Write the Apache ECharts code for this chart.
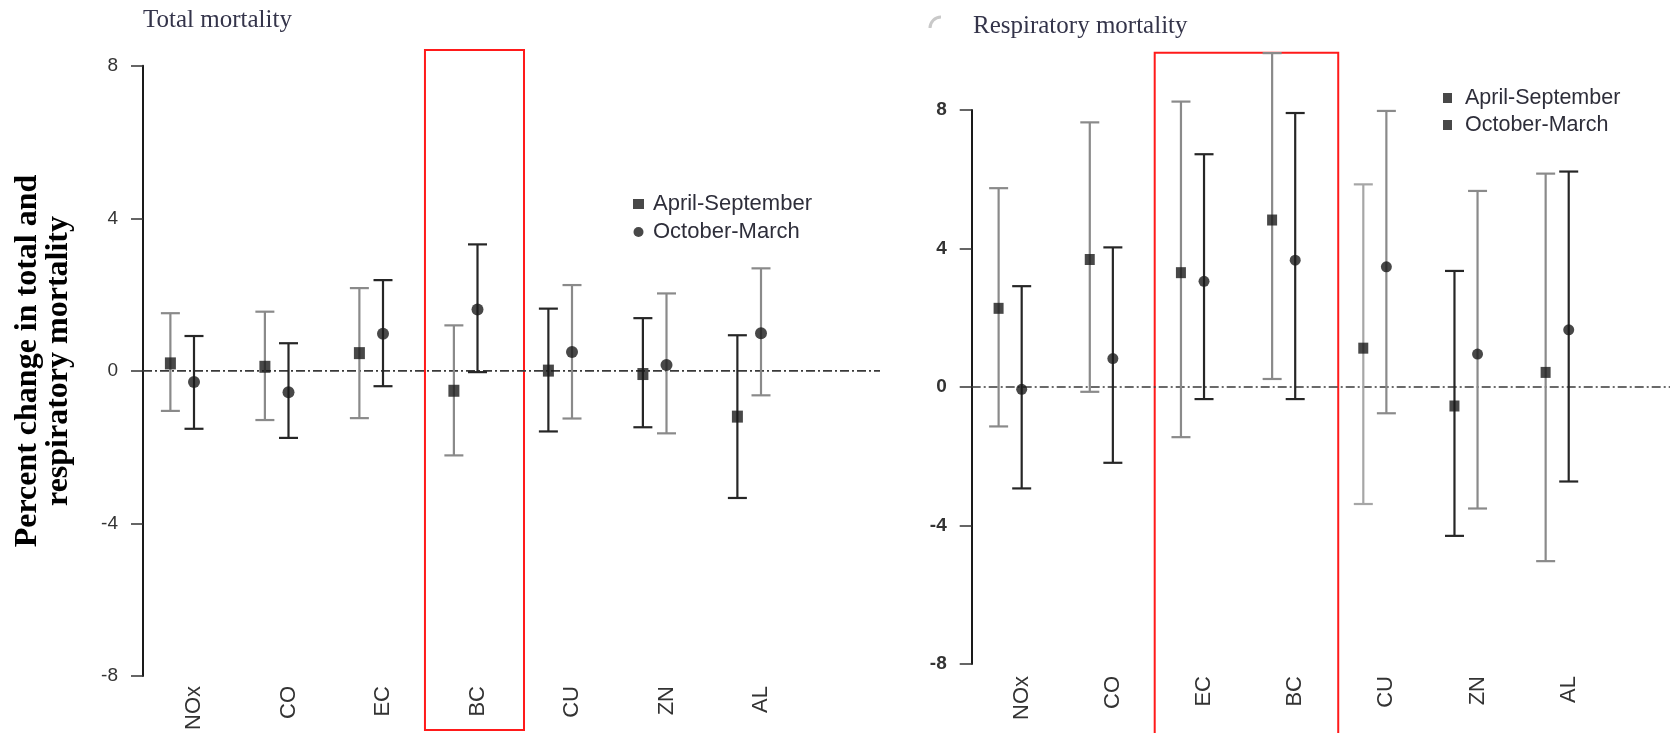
<!DOCTYPE html>
<html><head><meta charset="utf-8">
<script src="https://cdn.jsdelivr.net/npm/echarts@6/dist/echarts.min.js"></script>
<style>html,body{margin:0;padding:0;background:#fff}#c{width:1670px;height:733px}</style>
</head><body><div id="c"></div>
<script>
// ---- data ----
const pollutants = ['NOx', 'CO', 'EC', 'BC', 'CU', 'ZN', 'AL'];
const yTicks = [-8, -4, 0, 4, 8];
const seriesNames = ['April-September', 'October-March'];

// Total mortality
const totalAprSepEst  = [0.17, 0.08, 0.44, -0.55, -0.02, -0.11, -1.23];
const totalAprSepLow  = [-1.08, -1.32, -1.27, -2.25, -1.62, -1.51, -3.37];
const totalAprSepHigh = [1.49, 1.53, 2.15, 1.17, 1.61, 1.36, 0.91];
const totalOctMarEst  = [-0.32, -0.59, 0.95, 1.59, 0.47, 0.13, 0.96];
const totalOctMarLow  = [-1.55, -1.79, -0.43, -0.06, -1.28, -1.67, -0.67];
const totalOctMarHigh = [0.89, 0.70, 2.36, 3.30, 2.23, 2.01, 2.67];

// Respiratory mortality
const respAprSepEst  = [2.27, 3.68, 3.30, 4.82, 1.12, -0.55, 0.42];
const respAprSepLow  = [-1.14, -0.14, -1.45, 0.23, -3.38, -4.30, -5.03];
const respAprSepHigh = [5.74, 7.64, 8.24, 9.64, 5.85, 3.35, 6.16];
const respOctMarEst  = [-0.07, 0.82, 3.05, 3.66, 3.47, 0.95, 1.65];
const respOctMarLow  = [-2.93, -2.19, -0.35, -0.35, -0.76, -3.51, -2.73];
const respOctMarHigh = [2.91, 4.03, 6.72, 7.91, 7.97, 5.66, 6.22];

// highlighted pollutants (red boxes)
const totalHighlight = ['BC', 'BC'];
const respHighlight  = ['EC', 'BC'];

// ---- styles (error bar shade per item) ----
const shadeColors = { d: '#262626', g: '#8a8a8a', l: '#a6a6a6' };
const totalAprSepShade = ['g', 'g', 'g', 'g', 'd', 'd', 'd'];
const totalOctMarShade = ['d', 'd', 'd', 'd', 'g', 'g', 'g'];
const respAprSepShade  = ['g', 'g', 'g', 'g', 'l', 'd', 'g'];
const respOctMarShade  = ['d', 'd', 'd', 'd', 'g', 'g', 'd'];

const FONT_SANS = 'Liberation Sans, Arial, sans-serif';
const FONT_SERIF = 'Liberation Serif, Times New Roman, serif';

function errData(low, high, shade) {
  return pollutants.map((p, i) => [i, low[i], high[i], shade[i]]);
}
function estData(est) {
  return pollutants.map((p, i) => [i, est[i]]);
}
function errRender(dodgeRatio) {
  return function (params, api) {
    const i = api.value(0);
    const band = api.size([1, 0])[0];
    const lo = api.coord([i, api.value(1)]);
    const hi = api.coord([i, api.value(2)]);
    const x = lo[0] - band * dodgeRatio;
    const cap = 9.5;
    const style = { stroke: shadeColors[api.value(3)], lineWidth: 2.2 };
    return {
      type: 'group',
      children: [
        { type: 'line', shape: { x1: x, y1: hi[1], x2: x, y2: lo[1] }, style },
        { type: 'line', shape: { x1: x - cap, y1: hi[1], x2: x + cap, y2: hi[1] }, style },
        { type: 'line', shape: { x1: x - cap, y1: lo[1], x2: x + cap, y2: lo[1] }, style }
      ]
    };
  };
}
// box spanning categories value(0)..value(1), y from value(2) to value(3),
// padded by a fraction of a band on the left (padL) and right (padR)
function boxRender(padL, padR) {
  return function (params, api) {
    const band = api.size([1, 0])[0];
    const p1 = api.coord([api.value(0), api.value(2)]);
    const p2 = api.coord([api.value(1), api.value(3)]);
    const x1 = p1[0] - band * padL, x2 = p2[0] + band * padR;
    return {
      type: 'rect',
      shape: { x: x1, y: p1[1], width: x2 - x1, height: p2[1] - p1[1] },
      style: { fill: 'none', stroke: '#ff1a1a', lineWidth: 2 }
    };
  };
}

function valueYAxis(gridIndex, show, bold) {
  return {
    type: 'value', gridIndex, min: yTicks[0], max: yTicks[yTicks.length - 1], interval: 4,
    show,
    axisLine: { show: true, lineStyle: { color: '#1a1a1a', width: 2 } },
    axisTick: { show: true, length: 12, lineStyle: { color: '#333', width: 1.5 } },
    axisLabel: { margin: 25, fontSize: 19, fontFamily: FONT_SANS, color: '#333', fontWeight: bold ? 'bold' : 'normal' },
    splitLine: { show: false }
  };
}
function catXAxis(gridIndex) {
  return {
    type: 'category', gridIndex, data: pollutants, boundaryGap: true,
    axisLine: { show: false }, axisTick: { show: false }, splitLine: { show: false },
    axisLabel: { rotate: 90, margin: 12, fontSize: 22, fontFamily: FONT_SANS, color: '#333', interval: 0 }
  };
}
function hiddenXAxis(gridIndex) {
  return { type: 'value', gridIndex, min: 0, max: 1, show: false };
}
const zeroLineStyle = { color: '#3a3a3a', width: 1.6, type: [9, 3, 2, 3] };

const option = {
  animation: false,
  backgroundColor: '#fff',
  title: [
    { text: 'Total mortality', left: 143, top: 8, padding: 0,
      textStyle: { fontFamily: FONT_SERIF, fontSize: 25, fontWeight: 'normal', color: '#34344a' } },
    { text: 'Respiratory mortality', left: 973, top: 14, padding: 0,
      textStyle: { fontFamily: FONT_SERIF, fontSize: 25, fontWeight: 'normal', color: '#34344a' } }
  ],
  legend: [
    { orient: 'vertical', left: 633, top: 193, padding: 0, itemWidth: 11, itemHeight: 10, itemGap: 6,
      textStyle: { fontSize: 22, fontFamily: FONT_SANS, color: '#2e2e3a', padding: [0, 0, 0, 4] },
      data: [{ name: seriesNames[0], icon: 'rect' }, { name: seriesNames[1], icon: 'circle' }] },
    { orient: 'vertical', left: 1443, top: 87, padding: 0, itemWidth: 9, itemHeight: 10, itemGap: 5,
      textStyle: { fontSize: 21.5, fontFamily: FONT_SANS, color: '#2e2e3a', padding: [0, 0, 0, 8] },
      data: [{ name: seriesNames[0], icon: 'rect' }, { name: seriesNames[1], icon: 'rect' }] }
  ],
  grid: [
    // left panel: axis grid, category grid
    { left: 143, top: 65.7, width: 737, height: 610.3 },
    { left: 146.75, top: 65.7, width: 661.5, height: 610.3 },
    // right panel
    { left: 971.7, top: 109.9, width: 698.3, height: 554.1 },
    { left: 976.1, top: 109.9, width: 638.2, height: 554.1 }
  ],
  xAxis: [hiddenXAxis(0), catXAxis(1), hiddenXAxis(2), catXAxis(3)],
  yAxis: [valueYAxis(0, true, false), valueYAxis(1, false, false), valueYAxis(2, true, true), valueYAxis(3, false, false)],
  graphic: [
    { type: 'text', x: 43, y: 361, rotation: Math.PI / 2,
      style: { text: 'Percent change in total and\nrespiratory mortality', fontFamily: FONT_SERIF, fontSize: 32,
        fontWeight: 'bold', lineHeight: 31, align: 'center', verticalAlign: 'middle', fill: '#000' } },
    { type: 'arc', shape: { cx: 941, cy: 28, r: 11, startAngle: Math.PI, endAngle: Math.PI * 1.5 },
      style: { stroke: '#c9c9c9', lineWidth: 3, fill: 'none' } }
  ],
  series: [
    // zero reference lines
    { type: 'line', xAxisIndex: 0, yAxisIndex: 0, data: [[0, 0], [1, 0]], symbol: 'none', silent: true,
      lineStyle: zeroLineStyle, z: 1 },
    { type: 'line', xAxisIndex: 2, yAxisIndex: 2, data: [[0, 0], [1, 0]], symbol: 'none', silent: true,
      lineStyle: zeroLineStyle, z: 1 },
    // highlight boxes
    { type: 'custom', xAxisIndex: 1, yAxisIndex: 1, clip: false, silent: true, renderItem: boxRender(0.556, 0.492),
      data: [[pollutants.indexOf(totalHighlight[0]), pollutants.indexOf(totalHighlight[1]), 8.41, -9.47]], z: 1 },
    { type: 'custom', xAxisIndex: 3, yAxisIndex: 3, clip: false, silent: true, renderItem: boxRender(0.541, 0.472),
      data: [[pollutants.indexOf(respHighlight[0]), pollutants.indexOf(respHighlight[1]), 9.65, -10.6]], z: 1 },
    // left panel error bars
    { type: 'custom', xAxisIndex: 1, yAxisIndex: 1, clip: false, renderItem: errRender(0.25),
      data: errData(totalAprSepLow, totalAprSepHigh, totalAprSepShade), z: 2 },
    { type: 'custom', xAxisIndex: 1, yAxisIndex: 1, clip: false, renderItem: errRender(0),
      data: errData(totalOctMarLow, totalOctMarHigh, totalOctMarShade), z: 2 },
    // right panel error bars
    { type: 'custom', xAxisIndex: 3, yAxisIndex: 3, clip: false, renderItem: errRender(0.253),
      data: errData(respAprSepLow, respAprSepHigh, respAprSepShade), z: 2 },
    { type: 'custom', xAxisIndex: 3, yAxisIndex: 3, clip: false, renderItem: errRender(0),
      data: errData(respOctMarLow, respOctMarHigh, respOctMarShade), z: 2 },
    // markers
    { name: seriesNames[0], type: 'scatter', xAxisIndex: 1, yAxisIndex: 1, symbol: 'rect', symbolSize: [11, 12],
      symbolOffset: [-23.6, 0], itemStyle: { color: '#1a1a1a' }, data: estData(totalAprSepEst), z: 3 },
    { name: seriesNames[1], type: 'scatter', xAxisIndex: 1, yAxisIndex: 1, symbol: 'circle', symbolSize: 12,
      itemStyle: { color: '#1a1a1a' }, data: estData(totalOctMarEst), z: 3 },
    { name: seriesNames[0], type: 'scatter', xAxisIndex: 3, yAxisIndex: 3, symbol: 'rect', symbolSize: [10, 11],
      symbolOffset: [-23.1, 0], itemStyle: { color: '#1a1a1a' }, data: estData(respAprSepEst), z: 3 },
    { name: seriesNames[1], type: 'scatter', xAxisIndex: 3, yAxisIndex: 3, symbol: 'circle', symbolSize: 11,
      itemStyle: { color: '#1a1a1a' }, data: estData(respOctMarEst), z: 3 }
  ]
};
const chart = echarts.init(document.getElementById('c'), null, { renderer: 'canvas' });
chart.setOption(option);
</script>
</body></html>
